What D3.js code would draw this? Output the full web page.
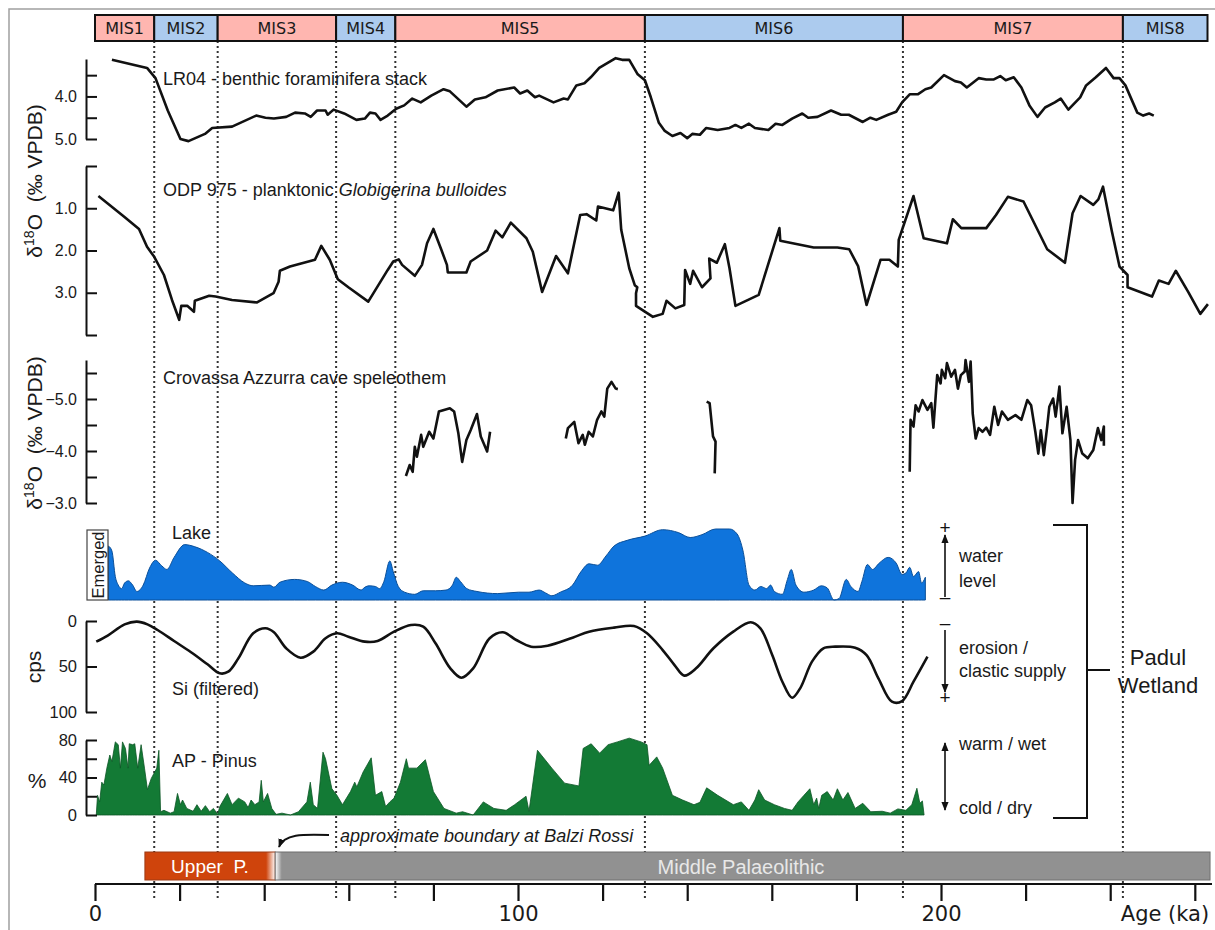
<!DOCTYPE html>
<html>
<head>
<meta charset="utf-8">
<script src="https://cdn.jsdelivr.net/npm/d3@7"></script>
<style>
body { margin: 0; background: #fff; }
svg { display: block; }
text { font-family: "Liberation Sans", Arial, sans-serif; fill: #1a1a1a; }
</style>
</head>
<body>
<script>
// ---------- DATA (age in ka, value) ----------
const misNames = ["MIS1", "MIS2", "MIS3", "MIS4", "MIS5", "MIS6", "MIS7", "MIS8"]
const misBounds = [0, 14, 29, 57, 71, 130, 191, 243, 263]

const lr04 = [[4,3.14],[12.3,3.33],[14.3,3.57],[17.2,4.33],[20.2,5.0],[22.1,5.05],[26,4.88],[27.7,4.74],[32.4,4.71],[38.1,4.45],[40.3,4.5],[42.3,4.52],[45.2,4.48],[47.3,4.38],[49.6,4.4],[51,4.48],[52.5,4.33],[54.5,4.33],[55,4.43],[56.4,4.31],[58.9,4.4],[61.8,4.55],[63.8,4.52],[65,4.38],[66.3,4.4],[67.5,4.55],[69.2,4.45],[71.2,4.29],[73.1,4.21],[75,4.05],[77,4.14],[79.5,3.98],[82.4,3.83],[83.9,3.88],[87.8,4.24],[89.8,4.07],[92.3,4.02],[95.2,3.86],[99.1,3.79],[100.5,3.93],[102.2,3.86],[104,4.02],[105,3.98],[108.4,4.14],[110.8,4.05],[111.8,4.07],[113.8,3.74],[115.7,3.69],[117.2,3.55],[119.2,3.33],[123.1,3.1],[124.6,3.14],[126.3,3.14],[128.3,3.48],[130,3.62],[131.4,4.02],[133.3,4.62],[134.7,4.81],[136.5,4.93],[138.4,4.86],[140,4.98],[141.2,4.88],[143,4.9],[144.5,4.74],[147.2,4.79],[150,4.74],[151.4,4.67],[152.8,4.74],[154.6,4.64],[156,4.74],[159.2,4.79],[160.9,4.64],[162.5,4.67],[164.8,4.52],[167.2,4.4],[168.6,4.5],[170.8,4.48],[174,4.33],[176.4,4.43],[178.2,4.43],[181.5,4.6],[183.3,4.5],[184.7,4.55],[187.5,4.43],[189.4,4.36],[190.8,4.14],[192.6,3.95],[194.5,3.95],[196.3,3.83],[197.7,3.79],[200.7,3.5],[203.3,3.64],[204.7,3.67],[206.1,3.79],[208.9,3.57],[210.7,3.6],[212.5,3.6],[214,3.52],[215.3,3.62],[217.2,3.55],[219,3.79],[220.9,4.21],[222.8,4.48],[224.6,4.26],[226.9,4.14],[228.3,4.05],[230.1,4.31],[232.9,4.02],[234.3,3.74],[236.6,3.55],[239,3.33],[240.8,3.57],[242.2,3.57],[243.6,3.74],[246.4,4.38],[247.8,4.45],[249.2,4.4],[250.3,4.45]]

const odp975 = [[0.8,0.71],[6.9,1.2],[10.4,1.49],[12.3,1.91],[14,2.15],[16.3,2.58],[18.2,3.17],[19.9,3.64],[20.4,3.31],[21.8,3.31],[23.4,3.45],[23.6,3.19],[27,3.07],[28.5,3.09],[32.4,3.17],[38.3,3.23],[42.2,3.01],[43.4,2.74],[43.7,2.48],[46.1,2.38],[52,2.22],[53.5,1.89],[55.5,2.22],[57.4,2.68],[59.9,2.87],[64.6,3.21],[69.2,2.46],[70.5,2.26],[71.8,2.21],[72.6,2.34],[75.6,2.6],[77.3,2.34],[78.5,1.83],[80,1.49],[81.9,1.99],[83.2,2.34],[83.4,2.52],[87.8,2.52],[88.8,2.26],[92.7,2.0],[94.7,1.53],[96.3,1.69],[98.3,1.34],[102,1.71],[103.5,2.03],[105.7,2.98],[109,2.13],[111.8,2.54],[114.7,1.16],[116.2,1.14],[118.5,1.29],[118.9,0.96],[122.5,1.05],[123.8,0.63],[124.4,1.51],[126.3,2.42],[127.6,2.82],[128.2,2.87],[127.9,3.01],[127.9,3.31],[131.9,3.57],[134.2,3.5],[135.1,3.19],[137.2,3.37],[139.3,3.29],[139.5,2.46],[140.7,2.79],[141.4,2.48],[143.5,2.87],[145.5,2.66],[145.2,2.19],[147,2.29],[148.9,1.85],[150,2.42],[151.4,3.31],[156.9,3.05],[161.8,1.47],[162,1.77],[169.9,1.93],[175.5,1.93],[178.3,1.97],[180.4,2.37],[182.4,3.29],[185.7,2.22],[187.8,2.22],[189.8,2.38],[190,1.75],[193.5,0.71],[195.9,1.71],[201.4,1.83],[202.8,1.26],[204.8,1.47],[210.7,1.47],[213,1.16],[215.8,0.73],[219.5,0.84],[225.1,1.97],[229.3,2.29],[231.1,1.12],[233,0.71],[236,0.92],[237.2,0.79],[238.3,0.49],[240.4,1.55],[242.2,2.38],[244.1,2.58],[244.1,2.87],[249.9,3.09],[251.5,2.71],[253.8,2.79],[255.5,2.48],[258.5,2.99],[261.3,3.5],[263.1,3.27]]

const crovassaA = [[73.5,-3.52],[74.4,-3.73],[75.1,-3.6],[75.6,-4.08],[76.1,-3.89],[77.1,-4.31],[77.6,-4.08],[79,-4.37],[80,-4.24],[81.3,-4.76],[82.5,-4.79],[83.9,-4.82],[84.9,-4.76],[85.9,-4.34],[86.8,-3.79],[87.8,-4.21],[88.8,-4.4],[90.3,-4.71],[91.2,-4.28],[92.7,-3.99],[93.4,-4.37]]
const crovassaB = [[111.3,-4.24],[111.8,-4.44],[113.3,-4.56],[114.3,-4.15],[115.3,-4.31],[115.8,-4.12],[116.7,-4.37],[117.7,-4.28],[118.7,-4.6],[119.7,-4.76],[120.4,-4.66],[121.1,-5.2],[122.1,-5.33],[123.1,-5.2],[123.6,-5.19]]
const crovassaC = [[144.6,-4.95],[145.3,-4.92],[146.1,-4.28],[146.7,-4.18],[146.5,-3.57]]
const crovassaD = [[192.6,-3.6],[192.8,-4.6],[193.5,-4.47],[194,-4.88],[194.7,-4.76],[195.6,-4.98],[196.8,-4.79],[197.7,-4.92],[198.2,-4.45],[199.1,-5.46],[199.9,-5.3],[200.2,-5.56],[201,-5.4],[201.4,-5.69],[202.4,-5.43],[203.3,-5.56],[204,-5.2],[204.7,-5.46],[205.6,-5.53],[205.8,-5.75],[206.6,-5.33],[207,-5.72],[207.5,-4.72],[208.2,-4.24],[208.9,-4.44],[209.8,-4.37],[210.7,-4.45],[211.6,-4.31],[212.6,-4.85],[213.5,-4.5],[214.4,-4.76],[215.8,-4.6],[217.6,-4.69],[219,-4.6],[220.4,-4.98],[221.3,-4.88],[222.3,-4.37],[223,-3.95],[223.6,-4.4],[224.3,-3.92],[225.1,-4.47],[225.6,-4.85],[226.5,-5.01],[227.1,-4.66],[228,-5.24],[228.7,-4.34],[229.7,-4.85],[230.6,-4.21],[231.1,-3.0],[231.7,-3.83],[232.4,-4.21],[233.4,-3.95],[234.7,-3.86],[236,-4.02],[237.1,-4.44],[237.9,-4.21],[238.5,-4.47],[238.5,-4.1]]

const lakeLevel = [[3.2,0.76],[4,0.69],[4.8,0.33],[5.5,0.21],[6.3,0.16],[7,0.24],[7.9,0.27],[8.9,0.21],[9.9,0.12],[11.4,0.21],[12.9,0.45],[14.3,0.56],[15.8,0.48],[17,0.43],[18.7,0.6],[21.2,0.78],[23.6,0.75],[26.6,0.67],[29.5,0.55],[32.5,0.38],[35.4,0.24],[37.4,0.2],[41.3,0.21],[42.3,0.18],[43.7,0.25],[47.2,0.29],[50.2,0.26],[52.1,0.19],[54.1,0.14],[56,0.21],[58.5,0.25],[60.9,0.21],[62.9,0.14],[63.8,0.18],[64.8,0.2],[66.3,0.19],[67.3,0.16],[68.3,0.26],[69.7,0.55],[70.5,0.4],[71.7,0.19],[73.2,0.11],[75.6,0.08],[77.6,0.13],[80.5,0.13],[83,0.14],[84.5,0.21],[85.4,0.32],[86.4,0.26],[87.9,0.16],[90.3,0.12],[95.2,0.09],[100.1,0.11],[102.6,0.11],[105,0.14],[106.5,0.1],[108,0.06],[110,0.11],[112.9,0.21],[114.9,0.4],[116.8,0.51],[118.8,0.49],[120.8,0.62],[122.7,0.76],[125.8,0.84],[130,0.9],[134.2,0.99],[137.9,0.95],[140.7,0.88],[143.5,0.92],[146.7,1.0],[150,1.0],[151.8,0.93],[153.2,0.69],[154.6,0.21],[156,0.14],[157.4,0.19],[158.8,0.16],[159.7,0.21],[160.6,0.12],[162.5,0.08],[163.7,0.29],[164.6,0.43],[165.7,0.21],[167.6,0.11],[169.9,0.14],[171.7,0.2],[173.1,0.17],[174.7,0.0],[175.9,0.02],[177.6,0.29],[178.7,0.19],[180.4,0.12],[181.3,0.26],[182.6,0.5],[183.8,0.43],[185.4,0.52],[187.5,0.6],[189.4,0.52],[190.8,0.36],[191.7,0.38],[192.6,0.46],[193.5,0.33],[194.7,0.4],[195.4,0.24],[196.3,0.32]]

const siFiltered = [[0.3,22.7],[3,16],[7,3.7],[9.9,0.7],[12.4,3.7],[14.8,9.9],[18.7,22],[22.7,34.4],[26.6,47.6],[29.5,57.5],[31.5,55.7],[33.9,41],[37.4,13.5],[40.3,8],[42.3,12.4],[45.2,30],[48.6,40.3],[51.6,33.7],[54.5,19],[57.2,13.5],[59.9,17.2],[63.8,22.7],[66.8,22],[70.7,11.7],[74.7,4.4],[77.6,6.2],[80.5,24.5],[84,52],[86.6,62.3],[89.4,52],[93.3,19],[96.4,12.4],[99.6,20.9],[103.1,28.2],[107,27.1],[112.9,18.3],[116.8,11.7],[122.7,7.3],[127.4,5.5],[130.5,13.5],[134.2,31.9],[137,48.4],[139.3,60],[142.1,52],[146.2,30],[150.9,11.7],[155,1.4],[157.3,8],[160.1,37.4],[162.5,66.7],[164.8,84.3],[166.7,74],[169.5,44.7],[172.2,30],[175,28.2],[179.7,29.3],[182.4,37.4],[185.2,63],[188.4,88.7],[190.8,88],[193.5,66.7],[196.8,39.2]]

const apPinus = [[0.3,0],[0.6,21],[1.1,14],[1.6,35],[2.1,32],[2.8,50],[3.5,64],[4,57],[4.8,78],[5.5,75],[6,50],[6.5,78],[7.2,71],[7.8,50],[8.1,76],[8.9,75],[9.4,76],[10.1,50],[10.9,75],[11.7,50],[12.4,27],[13.3,39],[14.6,50],[15.1,69],[15.5,3.5],[16.3,5],[17.8,2],[18.7,3.5],[19.5,23],[20.2,11],[20.7,16],[21.7,7],[23.2,4],[24.1,11],[25.1,4],[26.1,10],[27.1,3.5],[28,7],[29,0.7],[29.5,9],[31.3,23],[32.4,11],[33.9,18],[35.4,14],[36.2,8],[36.9,16],[37.8,11],[38.8,14],[39.3,37],[39.8,14],[40.8,23],[41.8,7],[42.8,0.7],[44.2,2],[46.2,0],[48.1,3.5],[50.1,14],[50.9,35],[51.6,11],[52.6,7],[53.9,67],[54.5,60],[56,28],[57.2,21],[58.5,11],[60.4,25],[61.4,35],[61.9,30],[63.4,46],[65.3,61],[66.3,21],[67.8,25],[68.7,9],[69.7,14],[70.7,18],[72.2,35],[73.6,60],[74.1,50],[76.1,50],[78.1,59],[80,25],[82.5,7],[85.4,2],[86.9,3.5],[89.4,0],[91.8,14],[94.3,7],[97.2,5],[99.2,11],[101.9,20],[102.6,4],[104.6,69],[108,50],[111,34],[114.4,31],[115.4,71],[117.3,76],[119.3,66],[121.3,75],[123.5,78],[126.3,82],[129.1,78],[130.5,75],[131,53],[132.8,62],[134.2,50],[136.5,21],[138.9,16],[141.6,11],[143,13.5],[144.6,29],[147.2,21],[150.9,11],[152.8,14],[154.6,5],[156,16],[156.9,27],[158.3,16],[160.6,11],[163,7],[164.8,5],[166.2,14],[167.6,21],[169,28],[169.9,11],[170.6,18],[171.1,7],[171.8,21],[173.1,25],[174.5,16],[175.5,28],[176.8,16],[178,24],[179.7,7],[181.5,12.5],[183.4,3.5],[186.1,4],[188,2],[189.8,6.5],[191.7,5],[193.1,11],[194.3,28.5],[195,12.5],[195.6,15],[196,0]]

const periodNames = ["Upper\u00a0\u00a0P.", "Middle Palaeolithic"]
const periodBounds = [11.8, 42.6, 263.6]

const ageTicks = d3.range(0, 261, 20)
const ageLabels = [0, 100, 200]

// ---------- LAYOUT ----------
const W = 1215, H = 930
const svg = d3.select("body").append("svg").attr("width", W).attr("height", H)
const x = d3.scaleLinear().domain([0, 263]).range([95, 1207.5])
const axisX = 86

const defs = svg.append("defs")
defs.append("marker").attr("id", "arrow").attr("viewBox", "0 0 10 10")
    .attr("refX", 9).attr("refY", 5).attr("markerWidth", 9).attr("markerHeight", 9)
    .attr("markerUnits", "userSpaceOnUse").attr("orient", "auto-start-reverse")
    .append("path").attr("d", "M0,1L10,5L0,9Z").attr("fill", "#111")

// outer frame
svg.append("path").attr("d", "M9,930V9H1215").attr("fill", "none")
    .attr("stroke", "#a0a0a0").attr("stroke-width", 1.5)

// dotted MIS boundaries
svg.append("g").selectAll("line")
    .data(misBounds.slice(1, -1))
    .enter().append("line")
    .attr("x1", d => x(d)).attr("x2", d => x(d))
    .attr("y1", 41).attr("y2", 899)
    .attr("stroke", "#333").attr("stroke-width", 2)
    .attr("stroke-dasharray", "2,3")

// MIS bar
let mis = svg.append("g")
mis.selectAll("rect").data(misNames).enter().append("rect")
    .attr("x", (d, i) => x(misBounds[i]))
    .attr("width", (d, i) => x(misBounds[i + 1]) - x(misBounds[i]))
    .attr("y", 15).attr("height", 26)
    .attr("fill", (d, i) => i % 2 == 0 ? "#ffb6b0" : "#accbee")
    .attr("stroke", "#111").attr("stroke-width", 2)
mis.selectAll("text").data(misNames).enter().append("text")
    .attr("x", (d, i) => (x(misBounds[i]) + x(misBounds[i + 1])) / 2)
    .attr("y", 34).attr("text-anchor", "middle")
    .style("font-family", "'DejaVu Sans', Verdana, sans-serif").attr("font-size", 16)
    .text(d => d)

// y axis helper
function drawAxis(scale, ticks, labelled, fmt, fs) {
    let ax = d3.axisLeft(scale).tickValues(ticks)
        .tickSizeInner(-11).tickSizeOuter(0).tickPadding(9)
        .tickFormat(d => labelled.includes(d) ? fmt(d) : "")
    let g = svg.append("g").attr("transform", "translate(" + axisX + ",0)").call(ax)
    g.select(".domain").attr("stroke", "#111").attr("stroke-width", 2)
    g.selectAll(".tick line").attr("stroke", "#111").attr("stroke-width", 2)
    g.selectAll(".tick text").attr("font-size", fs || 16)
        .style("font-family", "'Liberation Sans', Arial, sans-serif").attr("fill", "#1a1a1a")
    return g
}

function label(txt, px, py, size, italic) {
    return svg.append("text").attr("x", px).attr("y", py).attr("font-size", size || 18)
        .attr("font-style", italic ? "italic" : null).text(txt)
}

function lineOf(sx, sy, data, curve) {
    svg.append("path").datum(data)
        .attr("d", d3.line().x(d => sx(d[0])).y(d => sy(d[1])).curve(curve || d3.curveLinear))
        .attr("fill", "none").attr("stroke", "#111").attr("stroke-width", 2.6)
        .attr("stroke-linejoin", "round")
}

// LR04
let yLR = d3.scaleLinear().domain([3.12, 5.0]).range([59, 139])
drawAxis(yLR, [3.5, 4.0, 4.5, 5.0], [4.0, 5.0], d3.format(".1f"))
lineOf(x, yLR, lr04)
label("LR04 - benthic foraminifera stack", 163, 85)

// ODP 975
let yODP = d3.scaleLinear().domain([0, 4]).range([166, 335])
drawAxis(yODP, [0, 1, 2, 3, 4], [1, 2, 3], d3.format(".1f"))
lineOf(x, yODP, odp975)
let odpTxt = label("ODP 975 - planktonic ", 163, 196)
odpTxt.append("tspan").attr("font-style", "italic").text("Globigerina bulloides")

// Crovassa Azzurra
let yCA = d3.scaleLinear().domain([-5.75, -3.0]).range([360, 503])
drawAxis(yCA, [-5.5, -5.0, -4.5, -4.0, -3.5, -3.0], [-5.0, -4.0, -3.0], d3.format(".1f"))
for (const seg of [crovassaA, crovassaB, crovassaC, crovassaD]) lineOf(x, yCA, seg)
label("Crovassa Azzurra cave speleothem", 163, 384)

// δ18O axis titles
function d18(cx, cy) {
    let t = svg.append("text").attr("transform", "translate(" + cx + "," + cy + ") rotate(-90)")
        .attr("text-anchor", "middle").attr("font-size", 21)
    t.append("tspan").text("δ")
    t.append("tspan").attr("dy", -8).attr("font-size", 14).text("18")
    t.append("tspan").attr("dy", 8).text("O\u00a0\u00a0(‰ VPDB)")
}
d18(42, 181)
d18(42, 433)

// Lake
let yLake = d3.scaleLinear().domain([0, 1]).range([600, 529])
svg.append("path").datum(lakeLevel)
    .attr("d", d3.area().x(d => x(d[0])).y0(yLake(0)).y1(d => yLake(d[1])).curve(d3.curveMonotoneX))
    .attr("fill", "#0f74dc").attr("stroke", "#0a4f99").attr("stroke-width", 1)
svg.append("rect").attr("x", 87).attr("y", 530).attr("width", 21).attr("height", 70)
    .attr("fill", "#fff").attr("stroke", "#444").attr("stroke-width", 1.2)
svg.append("text").attr("transform", "translate(103.5,565) rotate(-90)")
    .attr("text-anchor", "middle").attr("font-size", 16.5).text("Emerged")
label("Lake", 172, 539)

// Si
let ySi = d3.scaleLinear().domain([0, 100]).range([621, 712])
drawAxis(ySi, [0, 50, 100], [0, 50, 100], d3.format("d"), 16.5)
lineOf(x, ySi, siFiltered, d3.curveCatmullRom.alpha(0.5))
label("Si (filtered)", 172, 695)
svg.append("text").attr("transform", "translate(41,667) rotate(-90)")
    .attr("text-anchor", "middle").attr("font-size", 21).text("cps")

// AP Pinus
let yAP = d3.scaleLinear().domain([0, 80]).range([815, 740])
svg.append("path").datum(apPinus)
    .attr("d", d3.area().x(d => x(d[0])).y0(yAP(0)).y1(d => yAP(d[1])))
    .attr("fill", "#137a35").attr("stroke", "#0b5524").attr("stroke-width", 0.8)
drawAxis(yAP, [0, 20, 40, 60, 80], [0, 40, 80], d3.format("d"), 16.5)
label("AP - Pinus", 172, 767)
svg.append("text").attr("x", 37).attr("y", 788).attr("text-anchor", "middle")
    .attr("font-size", 21).text("%")

// right-hand annotations
let ann = svg.append("g")
function arrow(y1, y2, both) {
    ann.append("line").attr("x1", 945).attr("x2", 945).attr("y1", y1).attr("y2", y2)
        .attr("stroke", "#111").attr("stroke-width", 1.6)
        .attr("marker-end", "url(#arrow)")
        .attr("marker-start", both ? "url(#arrow)" : null)
}
arrow(597, 535)
arrow(630, 692)
arrow(810, 743, true)
const signs = [["+", 534], ["\u2013", 603], ["\u2013", 629], ["+", 704]]
ann.selectAll(".sign").data(signs).enter().append("text").attr("class", "sign")
    .attr("x", 945).attr("y", d => d[1]).attr("text-anchor", "middle")
    .attr("font-size", 19).style("fill", "#111").text(d => d[0])
const notes = [["water", 562], ["level", 587], ["erosion /", 654], ["clastic supply", 677], ["warm / wet", 750], ["cold / dry", 814]]
ann.selectAll(".note").data(notes).enter().append("text").attr("class", "note")
    .attr("x", 959).attr("y", d => d[1]).attr("font-size", 18).text(d => d[0])

ann.append("path").attr("d", "M1053,525H1087V818H1053M1087,670H1110")
    .attr("fill", "none").attr("stroke", "#111").attr("stroke-width", 2)
ann.append("text").attr("x", 1158).attr("y", 665).attr("text-anchor", "middle")
    .attr("font-size", 22).text("Padul")
ann.append("text").attr("x", 1158).attr("y", 693).attr("text-anchor", "middle")
    .attr("font-size", 22).text("Wetland")

// Palaeolithic bar
const pColors = ["#cf440c", "#919191"]
let gUp = defs.append("linearGradient").attr("id", "gUp")
gUp.append("stop").attr("offset", 0.93).attr("stop-color", pColors[0])
gUp.append("stop").attr("offset", 1).attr("stop-color", "#fff")
let gMid = defs.append("linearGradient").attr("id", "gMid")
gMid.append("stop").attr("offset", 0).attr("stop-color", "#fff")
gMid.append("stop").attr("offset", 0.007).attr("stop-color", pColors[1])

let pal = svg.append("g")
pal.selectAll("rect").data(periodNames).enter().append("rect")
    .attr("x", (d, i) => x(periodBounds[i]))
    .attr("width", (d, i) => x(periodBounds[i + 1]) - x(periodBounds[i]))
    .attr("y", 852).attr("height", 28)
    .attr("fill", (d, i) => i == 0 ? "url(#gUp)" : "url(#gMid)")
    .attr("stroke", (d, i) => i == 0 ? "#9c3a14" : "#6e6e6e").attr("stroke-width", 1)
pal.append("text").attr("x", 210).attr("y", 873).attr("text-anchor", "middle")
    .attr("font-size", 19).style("fill", "#fff").text(periodNames[0])
pal.append("text").attr("x", 741).attr("y", 874).attr("text-anchor", "middle")
    .attr("font-size", 20).style("fill", "#e8e8e8").text(periodNames[1])

svg.append("path").attr("d", "M329,835C302,834 284,834 279,847")
    .attr("fill", "none").attr("stroke", "#111").attr("stroke-width", 2)
    .attr("marker-end", "url(#arrow)")
label("approximate boundary at Balzi Rossi", 340, 842, 18, true)

// age axis
let xAxis = d3.axisBottom(x).tickValues(ageTicks).tickSizeInner(17).tickSizeOuter(0).tickPadding(5)
    .tickFormat(d => ageLabels.includes(d) ? d : "")
let gx = svg.append("g").attr("transform", "translate(0,884)").call(xAxis)
gx.select(".domain").attr("d", "M" + x(0) + ",0H1212").attr("stroke", "#111").attr("stroke-width", 2.2)
gx.selectAll(".tick line").attr("stroke", "#111").attr("stroke-width", 2.2)
gx.selectAll(".tick text").attr("font-size", 21).attr("fill", "#1a1a1a")
    .style("font-family", "'DejaVu Sans', Verdana, sans-serif")
svg.append("text").attr("x", 1165).attr("y", 921).attr("text-anchor", "middle")
    .style("font-family", "'DejaVu Sans', Verdana, sans-serif").attr("font-size", 21).text("Age (ka)")
</script>
</body>
</html>
